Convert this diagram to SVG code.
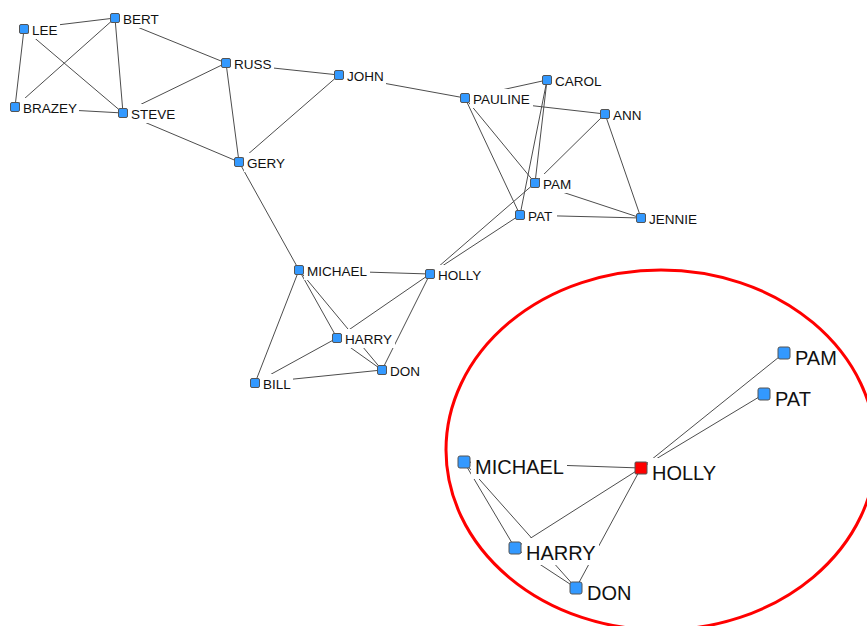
<svg xmlns="http://www.w3.org/2000/svg" width="867" height="626" viewBox="0 0 867 626">
<style>
.e{stroke:#4d4d4d;stroke-width:1;fill:none}
.n{fill:#3399ff;stroke:#555;stroke-width:1}
.h{fill:#ff0000;stroke:#555;stroke-width:1}
.bg{fill:#fff}
.t{font-family:"Liberation Sans",Arial,sans-serif;font-size:13.5px;fill:#111}
.T{font-family:"Liberation Sans",Arial,sans-serif;font-size:20px;fill:#111}
</style>
<rect width="867" height="626" fill="#fff"/>
<g id="edges">
<line class="e" x1="24" y1="29" x2="115" y2="18"/>
<line class="e" x1="24" y1="29" x2="15" y2="107"/>
<line class="e" x1="24" y1="29" x2="123" y2="113"/>
<line class="e" x1="115" y1="18" x2="15" y2="107"/>
<line class="e" x1="115" y1="18" x2="123" y2="113"/>
<line class="e" x1="115" y1="18" x2="226" y2="63"/>
<line class="e" x1="15" y1="107" x2="123" y2="113"/>
<line class="e" x1="123" y1="113" x2="226" y2="63"/>
<line class="e" x1="123" y1="113" x2="239" y2="162"/>
<line class="e" x1="226" y1="63" x2="239" y2="162"/>
<line class="e" x1="226" y1="63" x2="339" y2="75"/>
<line class="e" x1="339" y1="75" x2="239" y2="162"/>
<line class="e" x1="339" y1="75" x2="465" y2="98"/>
<line class="e" x1="239" y1="162" x2="299" y2="270"/>
<line class="e" x1="465" y1="98" x2="547" y2="80"/>
<line class="e" x1="465" y1="98" x2="605" y2="114"/>
<line class="e" x1="465" y1="98" x2="535" y2="183"/>
<line class="e" x1="465" y1="98" x2="520" y2="215"/>
<line class="e" x1="547" y1="80" x2="535" y2="183"/>
<line class="e" x1="547" y1="80" x2="520" y2="215"/>
<line class="e" x1="605" y1="114" x2="535" y2="183"/>
<line class="e" x1="605" y1="114" x2="641" y2="218"/>
<line class="e" x1="535" y1="183" x2="641" y2="218"/>
<line class="e" x1="520" y1="215" x2="641" y2="218"/>
<line class="e" x1="535" y1="183" x2="430" y2="274"/>
<line class="e" x1="520" y1="215" x2="430" y2="274"/>
<line class="e" x1="299" y1="270" x2="430" y2="274"/>
<line class="e" x1="299" y1="270" x2="337" y2="338"/>
<line class="e" x1="299" y1="270" x2="382" y2="370"/>
<line class="e" x1="299" y1="270" x2="255" y2="383"/>
<line class="e" x1="430" y1="274" x2="337" y2="338"/>
<line class="e" x1="430" y1="274" x2="382" y2="370"/>
<line class="e" x1="337" y1="338" x2="382" y2="370"/>
<line class="e" x1="337" y1="338" x2="255" y2="383"/>
<line class="e" x1="255" y1="383" x2="382" y2="370"/>
</g>
<g id="inset-edges">
<line class="e" x1="464" y1="462" x2="641" y2="468"/>
<line class="e" x1="464" y1="462" x2="515" y2="548"/>
<line class="e" x1="464" y1="462" x2="576" y2="588"/>
<line class="e" x1="641" y1="468" x2="515" y2="548"/>
<line class="e" x1="641" y1="468" x2="576" y2="588"/>
<line class="e" x1="515" y1="548" x2="576" y2="588"/>
<line class="e" x1="641" y1="468" x2="784" y2="353"/>
<line class="e" x1="641" y1="468" x2="764" y2="394"/>
</g>
<g id="lee"><rect class="bg" x="29" y="20" width="31" height="19"/><rect class="n" x="19.5" y="24.5" width="9" height="9" rx="1.5"/><text class="t" x="32" y="35">LEE</text></g>
<g id="bert"><rect class="bg" x="120" y="9" width="42" height="19"/><rect class="n" x="110.5" y="13.5" width="9" height="9" rx="1.5"/><text class="t" x="123" y="24">BERT</text></g>
<g id="russ"><rect class="bg" x="231" y="54" width="43" height="19"/><rect class="n" x="221.5" y="58.5" width="9" height="9" rx="1.5"/><text class="t" x="234" y="69">RUSS</text></g>
<g id="john"><rect class="bg" x="344" y="66" width="42" height="19"/><rect class="n" x="334.5" y="70.5" width="9" height="9" rx="1.5"/><text class="t" x="347" y="81">JOHN</text></g>
<g id="brazey"><rect class="bg" x="20" y="98" width="59" height="19"/><rect class="n" x="10.5" y="102.5" width="9" height="9" rx="1.5"/><text class="t" x="23" y="113">BRAZEY</text></g>
<g id="steve"><rect class="bg" x="128" y="104" width="50" height="19"/><rect class="n" x="118.5" y="108.5" width="9" height="9" rx="1.5"/><text class="t" x="131" y="119">STEVE</text></g>
<g id="gery"><rect class="bg" x="244" y="153" width="44" height="19"/><rect class="n" x="234.5" y="157.5" width="9" height="9" rx="1.5"/><text class="t" x="247" y="168">GERY</text></g>
<g id="pauline"><rect class="bg" x="470" y="89" width="63" height="19"/><rect class="n" x="460.5" y="93.5" width="9" height="9" rx="1.5"/><text class="t" x="473" y="104">PAULINE</text></g>
<g id="carol"><rect class="bg" x="552" y="71" width="52" height="19"/><rect class="n" x="542.5" y="75.5" width="9" height="9" rx="1.5"/><text class="t" x="555" y="86">CAROL</text></g>
<g id="ann"><rect class="bg" x="610" y="105" width="34" height="19"/><rect class="n" x="600.5" y="109.5" width="9" height="9" rx="1.5"/><text class="t" x="613" y="120">ANN</text></g>
<g id="pam"><rect class="bg" x="540" y="174" width="35" height="19"/><rect class="n" x="530.5" y="178.5" width="9" height="9" rx="1.5"/><text class="t" x="543" y="189">PAM</text></g>
<g id="pat"><rect class="bg" x="525" y="206" width="32" height="19"/><rect class="n" x="515.5" y="210.5" width="9" height="9" rx="1.5"/><text class="t" x="528" y="221">PAT</text></g>
<g id="jennie"><rect class="bg" x="646" y="209" width="54" height="19"/><rect class="n" x="636.5" y="213.5" width="9" height="9" rx="1.5"/><text class="t" x="649" y="224">JENNIE</text></g>
<g id="michael"><rect class="bg" x="304" y="261" width="66" height="19"/><rect class="n" x="294.5" y="265.5" width="9" height="9" rx="1.5"/><text class="t" x="307" y="276">MICHAEL</text></g>
<g id="holly"><rect class="bg" x="435" y="265" width="50" height="19"/><rect class="n" x="425.5" y="269.5" width="9" height="9" rx="1.5"/><text class="t" x="438" y="280">HOLLY</text></g>
<g id="harry"><rect class="bg" x="342" y="329" width="53" height="19"/><rect class="n" x="332.5" y="333.5" width="9" height="9" rx="1.5"/><text class="t" x="345" y="344">HARRY</text></g>
<g id="don"><rect class="bg" x="387" y="361" width="36" height="19"/><rect class="n" x="377.5" y="365.5" width="9" height="9" rx="1.5"/><text class="t" x="390" y="376">DON</text></g>
<g id="bill"><rect class="bg" x="260" y="374" width="33" height="19"/><rect class="n" x="250.5" y="378.5" width="9" height="9" rx="1.5"/><text class="t" x="263" y="389">BILL</text></g>
<g id="inset-pam"><rect class="bg" x="791" y="343" width="50" height="27"/><rect class="n" x="778" y="347" width="12" height="12" rx="2"/><text class="T" x="795" y="365">PAM</text></g>
<g id="inset-pat"><rect class="bg" x="771" y="384" width="45" height="27"/><rect class="n" x="758" y="388" width="12" height="12" rx="2"/><text class="T" x="775" y="406">PAT</text></g>
<g id="inset-michael"><rect class="bg" x="471" y="452" width="96" height="27"/><rect class="n" x="458" y="456" width="12" height="12" rx="2"/><text class="T" x="475" y="474">MICHAEL</text></g>
<g id="inset-holly"><rect class="bg" x="648" y="458" width="72" height="27"/><rect class="h" x="635" y="462" width="12" height="12" rx="1"/><text class="T" x="652" y="480">HOLLY</text></g>
<g id="inset-harry"><rect class="bg" x="522" y="538" width="77" height="27"/><rect class="n" x="509" y="542" width="12" height="12" rx="2"/><text class="T" x="526" y="560">HARRY</text></g>
<g id="inset-don"><rect class="bg" x="583" y="578" width="51" height="27"/><rect class="n" x="570" y="582" width="12" height="12" rx="2"/><text class="T" x="587" y="600">DON</text></g>
<ellipse id="highlight" cx="661" cy="450" rx="215" ry="180" fill="none" stroke="#ff0000" stroke-width="3"/>
</svg>
